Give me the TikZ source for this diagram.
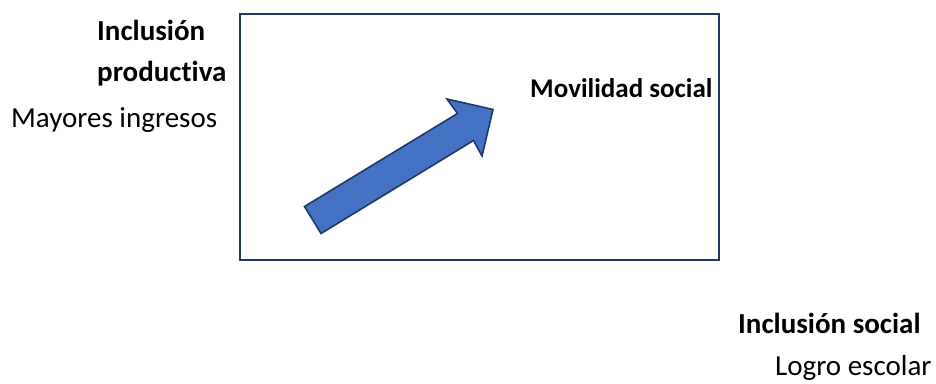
\documentclass[tikz,border=0pt]{standalone}
\usepackage{fontspec}
\setmainfont{Carlito}[Ligatures={NoCommon}]
\definecolor{arrowfill}{HTML}{4472C4}
\definecolor{navy}{HTML}{1F3864}
\begin{document}
\begin{tikzpicture}[x=1pt,y=-1pt,
  lbl/.style={inner sep=0pt,anchor=base west,font=\fontsize{29}{35}\selectfont},
  blbl/.style={lbl,font=\fontsize{29}{35}\selectfont\bfseries}]
\useasboundingbox (0,0) rectangle (936,383);
\node[draw=navy,line width=2.3pt,minimum width=479pt,minimum height=246pt,inner sep=0pt,anchor=north west] (frame) at (239,13) {};
\filldraw[fill=arrowfill,draw=navy,line width=1.6pt,line join=miter]
  (304.5,206.5) -- (457.5,113.5) -- (447,99) -- (493,109.5) -- (482,156) -- (473.5,140.5) -- (321,233.5) -- cycle;
\node[blbl,font=\fontsize{27}{32}\selectfont\bfseries] (mov) at (530,97) {Movilidad social};
\node[blbl] (inc1) at (97,40) {Inclusión};
\node[blbl] (inc2) at (97,81) {productiva};
\node[lbl] (may) at (11,127) {Mayores ingresos};
\node[blbl] (incs) at (738,333) {Inclusión social};
\node[lbl] (logro) at (775,375) {Logro escolar};
\end{tikzpicture}
\end{document}
